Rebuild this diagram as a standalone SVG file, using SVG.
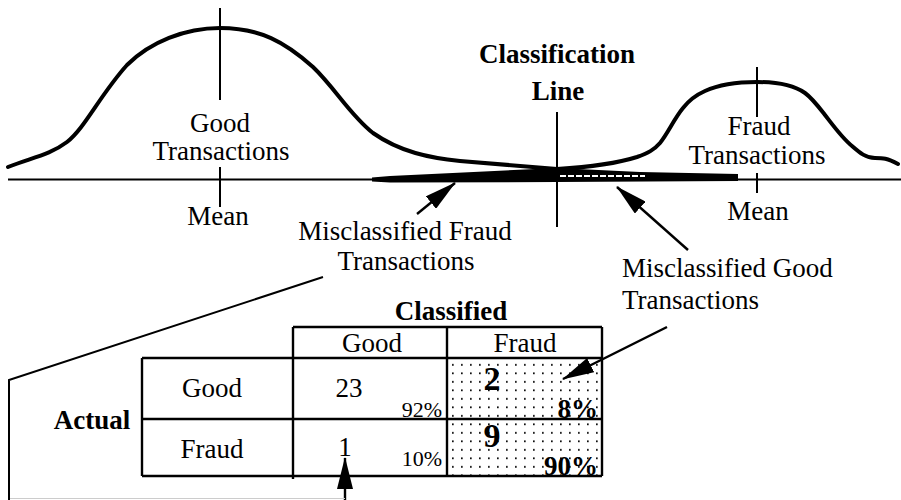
<svg xmlns="http://www.w3.org/2000/svg" width="901" height="500" viewBox="0 0 901 500">
<style>
text{font-family:"Liberation Serif","Times New Roman",serif;fill:#000}
.t{font-size:27px}
.b{font-size:27px;font-weight:bold}
.p{font-size:22px}
.m{text-anchor:middle}
.e{text-anchor:end}
.ln{stroke:#000;stroke-width:2;fill:none}
.tb{stroke:#000;stroke-width:2.4;fill:none}
.crv{stroke:#000;stroke-width:4;fill:none;stroke-linejoin:round;stroke-linecap:round}
.ar{stroke:#000;stroke-width:2.4;fill:none}
</style>
<defs>
<pattern id="dots" x="449" y="361" width="9" height="8.5" patternUnits="userSpaceOnUse">
<rect x="3" y="3" width="1.7" height="1.7" fill="#000"/>
</pattern>
<marker id="ah" markerUnits="userSpaceOnUse" markerWidth="32" markerHeight="16" refX="31" refY="8" orient="auto">
<path d="M0,0 L32,8 L0,16 Z" fill="#000"/>
</marker>
</defs>

<g id="axis">
<line class="ln" x1="8" y1="179.5" x2="901" y2="179.5"/>
</g>

<g id="good-distribution">
<path class="crv" d="M8,167 C30,158 50,155 67,142 C85,128 100,95 127,65 C150,42 185,28 220,28 C260,28 285,42 313,67 C335,88 350,115 373,133 C400,152 430,158 460,161 C500,164 530,167 557,169"/>
<line class="ln" x1="220" y1="8" x2="220" y2="100"/>
<line class="ln" x1="220" y1="167" x2="220" y2="207"/>
<text class="t m" x="220" y="132">Good</text>
<text class="t m" x="221" y="160">Transactions</text>
<text class="t m" x="218" y="225">Mean</text>
</g>

<g id="fraud-distribution">
<path class="crv" d="M557,169 C590,167 615,164 637,157 C648,153 654,150 660,143 C668,133 674,119 683,108 C690,99 696,95 705,91 C718,85 735,82 757,82 C780,82 795,86 805,93 C812,98 818,106 825,115 C832,124 842,138 852,146 C860,153 866,158 875,158 C883,158 887,158 898,164"/>
<line class="ln" x1="757" y1="67" x2="757" y2="117"/>
<line class="ln" x1="757" y1="173" x2="757" y2="193"/>
<text class="t m" x="759" y="135">Fraud</text>
<text class="t m" x="757" y="164">Transactions</text>
<text class="t m" x="758" y="220">Mean</text>
</g>

<g id="overlap">
<path d="M372,177.5 L390,176 L557,168 L557,182 L390,182.5 L372,181.5 Z" fill="#000"/>
<path d="M557,168 L640,172 L738,174 L738,181 L557,182 Z" fill="#000"/>
<line x1="560" y1="176" x2="645" y2="176" stroke="#fff" stroke-width="2" stroke-dasharray="6 2"/>
</g>

<g id="classification-line">
<line class="ln" x1="557" y1="112" x2="557" y2="227"/>
<text class="b m" x="557" y="63">Classification</text>
<text class="b m" x="558" y="100">Line</text>
</g>

<g id="misclassified-fraud">
<text class="t m" x="405" y="240">Misclassified Fraud</text>
<text class="t m" x="406" y="270">Transactions</text>
</g>

<g id="misclassified-good">
<text class="t" x="622" y="277">Misclassified Good</text>
<text class="t" x="622" y="309">Transactions</text>
</g>

<g id="table">
<rect x="447" y="358" width="155" height="118" fill="url(#dots)"/>
<line class="tb" x1="293" y1="327" x2="602" y2="327"/>
<line class="tb" x1="142" y1="358" x2="602" y2="358"/>
<line class="tb" x1="142" y1="419" x2="602" y2="419"/>
<line class="tb" x1="142" y1="476" x2="602" y2="476"/>
<line class="tb" x1="142" y1="358" x2="142" y2="476"/>
<line class="tb" x1="293" y1="327" x2="293" y2="479"/>
<line class="tb" x1="447" y1="327" x2="447" y2="476"/>
<line class="tb" x1="602" y1="327" x2="602" y2="476"/>
<text class="b m" x="451" y="320">Classified</text>
<text class="b m" x="92" y="429">Actual</text>
<text class="t m" x="372" y="352">Good</text>
<text class="t m" x="525" y="352">Fraud</text>
<text class="t m" x="212" y="397">Good</text>
<text class="t m" x="212" y="458">Fraud</text>
<text class="t m" x="349" y="397">23</text>
<text class="p e" x="442" y="417">92%</text>
<text class="t m" x="345" y="456">1</text>
<text class="p e" x="442" y="466">10%</text>
<text class="m" x="492" y="390" style="font-size:34px;font-weight:bold">2</text>
<text class="b e" x="598" y="418">8%</text>
<text class="m" x="492" y="447" style="font-size:34px;font-weight:bold">9</text>
<text class="b e" x="598" y="475">90%</text>
</g>

<g id="connectors">
<line class="ar" x1="417" y1="214" x2="455" y2="183" marker-end="url(#ah)"/>
<line class="ar" x1="688" y1="250" x2="617" y2="187" marker-end="url(#ah)"/>
<line class="ar" x1="667" y1="327" x2="563" y2="379" marker-end="url(#ah)"/>
<line class="ar" x1="345" y1="500" x2="345" y2="458" marker-end="url(#ah)"/>
<polyline class="ln" points="9,500 9,380 323,277"/>
<line x1="10" y1="498.5" x2="345" y2="498.5" stroke="#ccc" stroke-width="1"/>
</g>
</svg>
